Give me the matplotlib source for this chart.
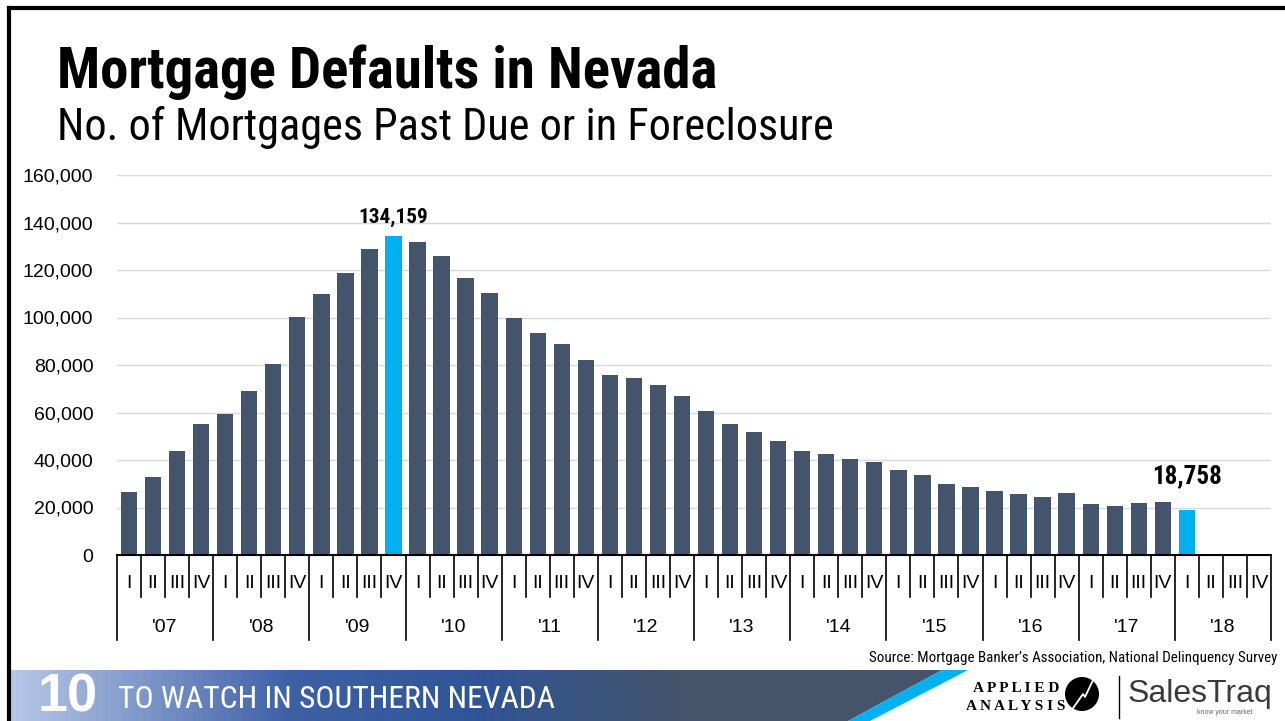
import matplotlib
matplotlib.use('Agg')
from matplotlib import pyplot as plt
from matplotlib import font_manager
from matplotlib.colors import LinearSegmentedColormap
from matplotlib.patches import Polygon, Circle
import numpy as np

# quarterly count of Nevada mortgages past due or in foreclosure, 2007 Q1 - 2018 Q1
values = [26500, 32900, 43600, 55000, 59400, 68900, 80300, 100400,
          110000, 118700, 129000, 134159, 131800, 126000, 116500, 110400,
          99700, 93300, 89000, 82300, 75800, 74600, 71400, 67000,
          60500, 55000, 51700, 48100, 43900, 42500, 40500, 39300,
          35600, 33500, 30100, 28700, 26900, 25700, 24600, 26000,
          21400, 20800, 21700, 22500, 18758]
quarters = ['I', 'II', 'III', 'IV']
years = ["'07", "'08", "'09", "'10", "'11", "'12", "'13", "'14", "'15", "'16", "'17", "'18"]
highlight = [11, 44]
yticks = [0, 20000, 40000, 60000, 80000, 100000, 120000, 140000, 160000]

# pick a narrow face if one is installed, otherwise shrink text to fit
names = set(f.name for f in font_manager.fontManager.ttflist)
NARROW = 'Liberation Sans'
for cand in ['Liberation Sans Narrow', 'Arial Narrow', 'Roboto Condensed',
             'Open Sans Condensed', 'DejaVu Sans Condensed']:
    if cand in names:
        NARROW = cand
        break
plt.rcParams['font.family'] = ['Liberation Sans', 'DejaVu Sans']

W, H = 1285, 721
fig = plt.figure(figsize=(W / 100, H / 100), dpi=100)
fig.patch.set_facecolor('white')
renderer = fig.canvas.get_renderer()


def fx(px):
    return px / W


def fy(py):
    return 1 - py / H


def fit(t, width_px):
    # shrink a text until it is no wider than width_px
    w = t.get_window_extent(renderer).width
    if w > width_px:
        t.set_fontsize(t.get_fontsize() * width_px / w)
    return t


# title block
fit(fig.text(fx(57), fy(88), 'Mortgage Defaults in Nevada', fontsize=42, fontweight='bold',
             family=NARROW, va='baseline', ha='left', color='black'), 660)
fit(fig.text(fx(57), fy(140), 'No. of Mortgages Past Due or in Foreclosure', fontsize=34,
             family=NARROW, va='baseline', ha='left', color='black'), 778)

# main chart
left, right, top, bottom = 117, 1271, 175, 555
ax = fig.add_axes([fx(left), fy(bottom), fx(right - left), (bottom - top) / H])
n = len(quarters) * len(years)
x = np.arange(len(values))
colors = ['#00b0f0' if i in highlight else '#44546a' for i in x]
ax.bar(x, values, width=0.68, color=colors, zorder=3)
ax.set_xlim(-0.5, n - 0.5)
ax.set_ylim(0, 160000)
ax.set_yticks(yticks)
ax.set_yticklabels([f'{v:,}' for v in yticks], fontsize=14, color='black')
ax.tick_params(axis='y', length=0, pad=17)
ax.set_xticks([])
ax.grid(axis='y', color='#d9d9d9', linewidth=1, zorder=0)
for s in ['top', 'right', 'left']:
    ax.spines[s].set_visible(False)
ax.spines['bottom'].set_color('black')
ax.spines['bottom'].set_linewidth(1.5)
ax.spines['bottom'].set_zorder(4)

# value labels on highlighted bars
offsets = {11: 7, 44: 16}
for i in highlight:
    lab = ax.annotate(f'{values[i]:,}', (x[i], values[i]), xytext=(0, offsets[i]),
                      textcoords='offset points', ha='center', va='bottom',
                      fontsize=18, fontweight='bold', family=NARROW, color='black')
    fit(lab, 70)

# two-level category axis
trans = ax.get_xaxis_transform()
q_len = (555 - 597) / (bottom - top)
y_len = (555 - 640) / (bottom - top)
for k in range(n + 1):
    depth = y_len if k % 4 == 0 else q_len
    ax.plot([k - 0.5, k - 0.5], [0, depth], transform=trans, color='black',
            linewidth=1.2, clip_on=False)
for k in range(n):
    ax.text(k, (555 - 583) / (bottom - top), quarters[k % 4], transform=trans,
            ha='center', va='center', fontsize=14, color='black')
for j, yr in enumerate(years):
    ax.text(j * 4 + 1.5, (555 - 627) / (bottom - top), yr, transform=trans,
            ha='center', va='center', fontsize=14, color='black')

# source note
fit(fig.text(fx(1277), fy(658), "Source: Mortgage Banker\u2019s Association, National Delinquency Survey",
             fontsize=12, family=NARROW, ha='right', va='center', color='black'), 405)

# footer band
fax = fig.add_axes([0, 0, 1, 51 / H])
fax.set_xlim(0, W)
fax.set_ylim(721, 670)
fax.axis('off')
cmap = LinearSegmentedColormap.from_list('band', [(0, '#b8c9e8'), (0.3, '#3e61a6'),
                                                  (0.5, '#2f5597'), (0.72, '#44546a'),
                                                  (1, '#44546a')])
grad = np.linspace(0, 1, 512).reshape(1, -1)
img = fax.imshow(grad, cmap=cmap, aspect='auto', extent=[8, 942, 721, 670])
band = Polygon([(8, 670), (942, 670), (848, 721), (8, 721)], closed=True,
               facecolor='none', edgecolor='none')
fax.add_patch(band)
img.set_clip_path(band)
fax.add_patch(Polygon([(942, 670), (968, 670), (870, 721), (848, 721)], closed=True,
                      facecolor='#00b0f0', edgecolor='none'))
fax.text(38, 698, '10', fontsize=39, fontweight='bold', color='white', ha='left', va='center')
fit(fax.text(118, 700, 'TO WATCH IN SOUTHERN NEVADA', fontsize=24, family=NARROW,
             color='white', ha='left', va='center'), 438)

# logos
fax.text(1016, 688, 'A P P L I E D', fontsize=11, fontweight='bold', family='Liberation Serif',
         ha='center', va='center', color='black')
fax.text(1016, 706, 'A N A L Y S I S', fontsize=11, fontweight='bold', family='Liberation Serif',
         ha='center', va='center', color='black')
fax.add_patch(Circle((1082, 694), 17, facecolor='black', edgecolor='none'))
fax.plot([1071, 1083, 1085, 1094], [711, 694, 697, 678], color='white', linewidth=1.3)
fax.plot([1119, 1119], [676, 718], color='black', linewidth=1)
fax.text(1128, 694, 'SalesTraq', fontsize=23, family='Liberation Sans', color='#3a3a3a',
         ha='left', va='center')
fax.text(1225, 713, 'know your market', fontsize=5, color='#666666', ha='center', va='center')

# slide frame
fig.add_artist(plt.Line2D([fx(9), 1], [fy(8), fy(8)], color='black', linewidth=3))
fig.add_artist(plt.Line2D([fx(9), fx(9)], [fy(8), 0], color='black', linewidth=3))

fig.savefig('out.png', dpi=100)
